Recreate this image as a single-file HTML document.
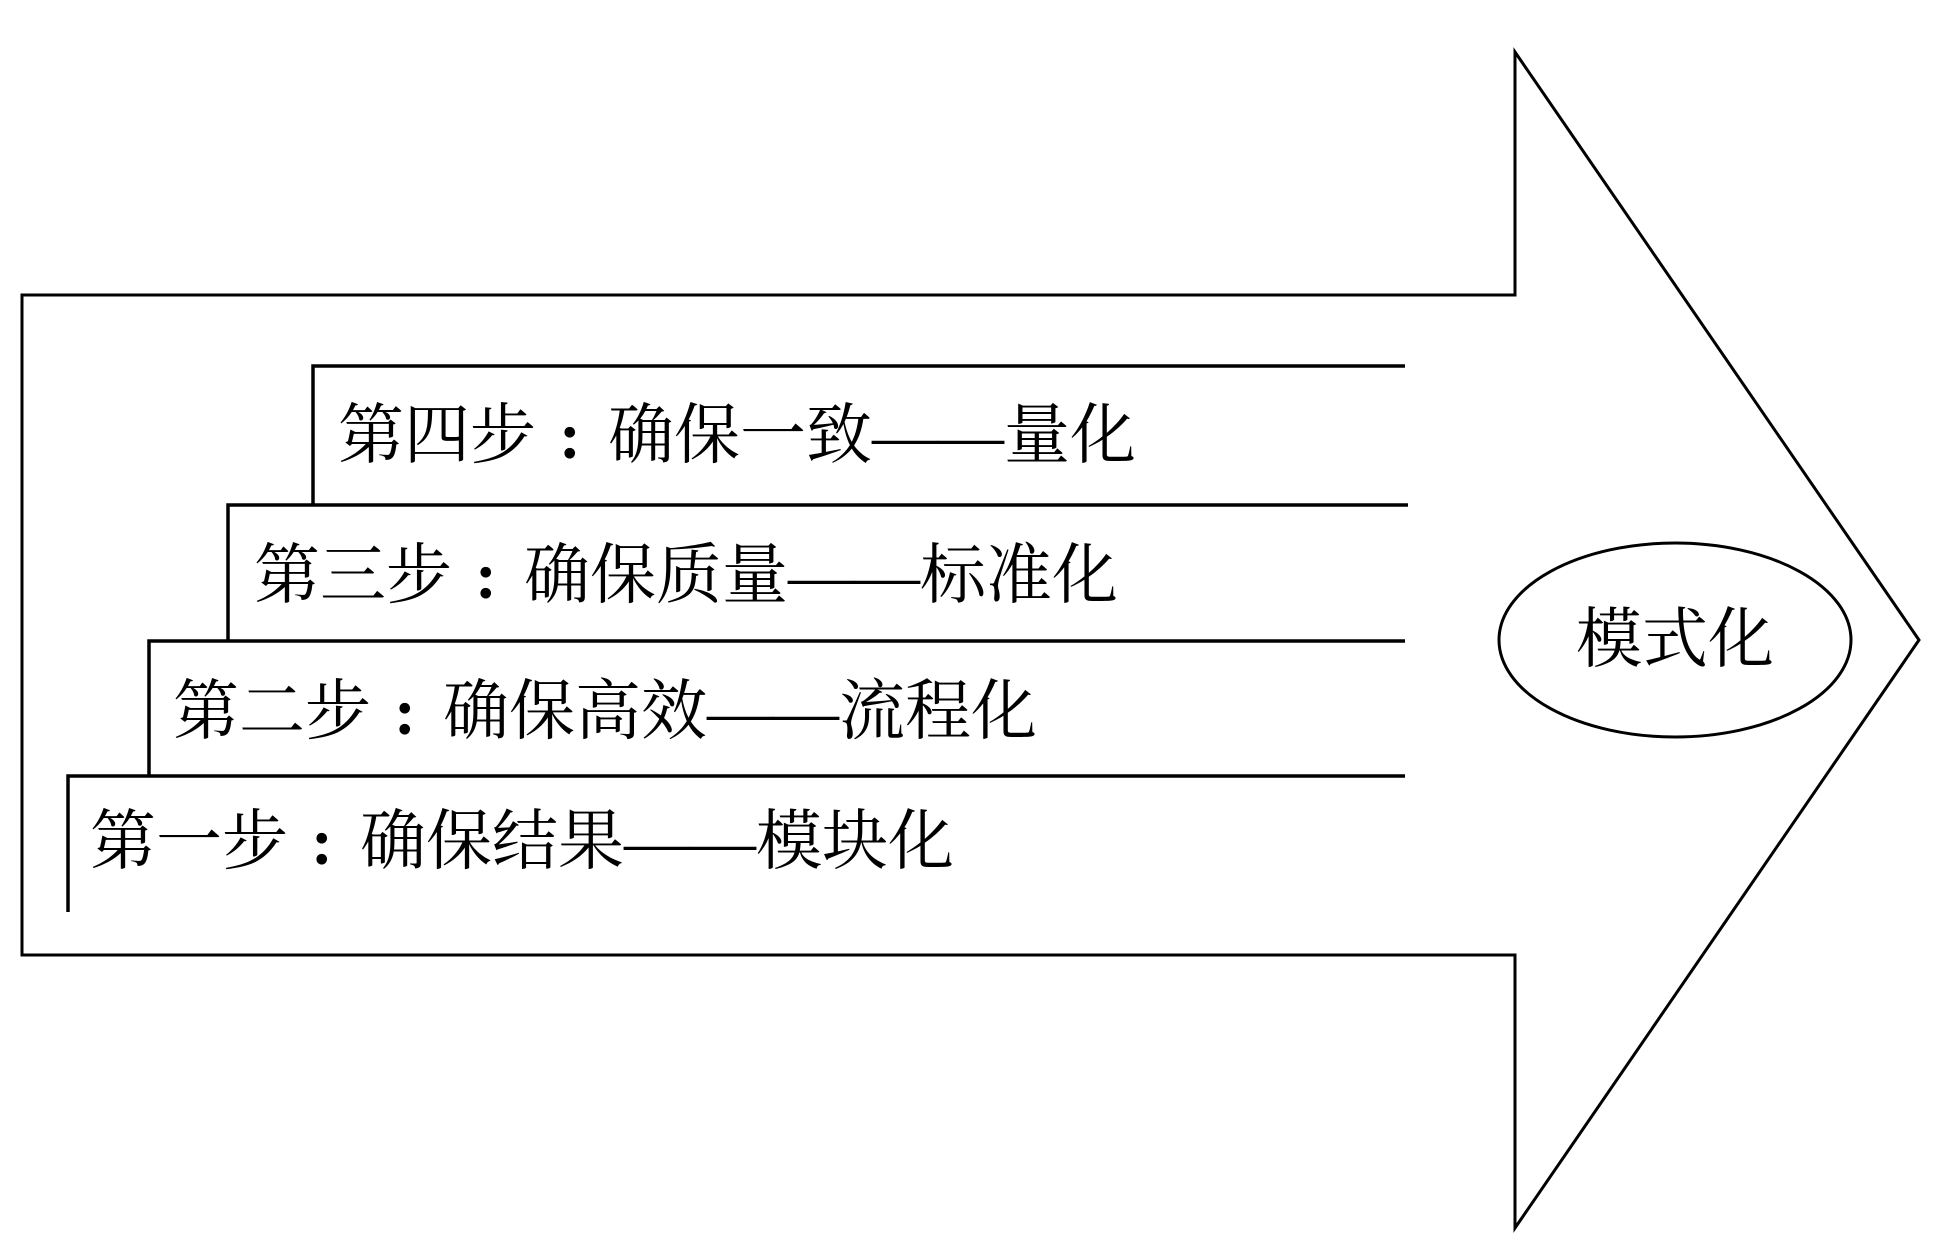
<!DOCTYPE html>
<html><head><meta charset="utf-8"><style>
html,body{margin:0;padding:0;background:#fff;}
svg{display:block;}
text{font-family:"Liberation Serif","Noto Serif CJK SC",serif;font-size:66px;fill:#000;dominant-baseline:central;}
.c{font-family:"Liberation Serif",serif;font-weight:bold;text-anchor:middle;}
</style></head><body>
<svg width="1941" height="1256" viewBox="0 0 1941 1256" xmlns="http://www.w3.org/2000/svg">
<polygon points="22,295 1515,295 1515,52 1919,640 1515,1228 1515,955 22,955" fill="none" stroke="#000" stroke-width="3"/>
<g stroke="#000" stroke-width="3.5" fill="none">
<polyline points="313,505 313,366 1405,366"/>
<polyline points="228,641 228,505 1408,505"/>
<polyline points="149,776 149,641 1405,641"/>
<polyline points="68,912 68,776 1405,776"/>
</g>
<ellipse cx="1675" cy="640" rx="176" ry="97" fill="none" stroke="#000" stroke-width="3"/>
<text x="338" y="436">第四步</text><text class="c" x="570" y="436">:</text><text x="608" y="436">确保一致——量化</text>
<text x="254" y="576">第三步</text><text class="c" x="486" y="576">:</text><text x="524" y="576">确保质量——标准化</text>
<text x="173" y="712">第二步</text><text class="c" x="405" y="712">:</text><text x="443" y="712">确保高效——流程化</text>
<text x="90" y="842">第一步</text><text class="c" x="322" y="842">:</text><text x="360" y="842">确保结果——模块化</text>
<text x="1675" y="640" text-anchor="middle">模式化</text>
</svg>
</body></html>
